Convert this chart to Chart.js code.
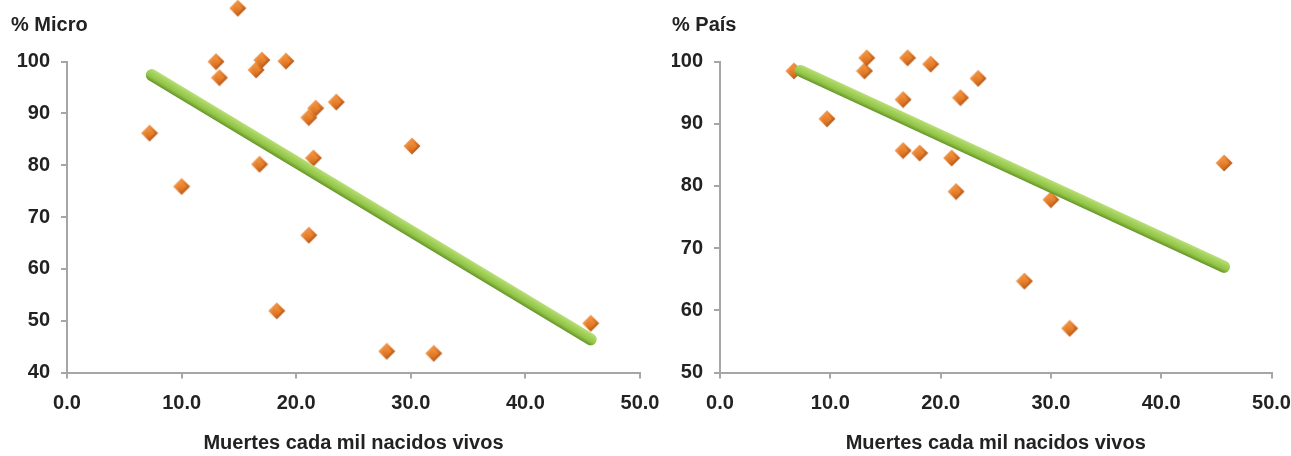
<!DOCTYPE html>
<html>
<head>
<meta charset="utf-8">
<script src="https://cdn.jsdelivr.net/npm/chart.js@4.4.1/dist/chart.umd.min.js"></script>
<style>
    html, body { margin: 0; padding: 0; background: #ffffff; }
    #wrap { position: relative; width: 1291px; height: 456px; overflow: hidden; }
    #microChart { position: absolute; left: 0; top: 0; }
    #paisChart { position: absolute; left: 660px; top: 0; }
</style>
</head>
<body>
<div id="wrap">
    <canvas id="microChart" width="690" height="456"></canvas>
    <canvas id="paisChart" width="660" height="456"></canvas>
</div>
<script>
// Mortalidad infantil (muertes cada mil nacidos vivos) vs cobertura
const microX = [7.2, 10.0, 13.0, 13.3, 14.9, 16.5, 16.8, 17.0, 18.3, 19.1, 21.1, 21.1, 21.5, 21.7, 23.5, 27.9, 30.1, 32.0, 45.7];
const microY = [86.2, 75.9, 100.0, 96.9, 110.3, 98.4, 80.2, 100.3, 51.9, 100.1, 89.2, 66.5, 81.4, 91.0, 92.2, 44.1, 83.7, 43.7, 49.5];
const microTrendX = [7.4, 45.7];
const microTrendY = [97.4, 46.4];

const paisX = [6.7, 9.7, 13.1, 13.3, 16.6, 16.6, 17.0, 18.1, 19.1, 21.0, 21.4, 21.8, 23.4, 27.6, 30.0, 31.7, 45.7];
const paisY = [98.5, 90.8, 98.5, 100.6, 93.9, 85.7, 100.6, 85.3, 99.6, 84.5, 79.1, 94.2, 97.3, 64.7, 77.8, 57.1, 83.7];
const paisTrendX = [7.3, 45.7];
const paisTrendY = [98.5, 67.0];

const xTicks = [0, 10, 20, 30, 40, 50];
const microTicks = [40, 50, 60, 70, 80, 90, 100];
const paisTicks = [50, 60, 70, 80, 90, 100];

const xTitle = 'Muertes cada mil nacidos vivos';

document.addEventListener('DOMContentLoaded', function() {
    const FONT = "'Liberation Sans', Arial, sans-serif";
    const TEXT = '#222222';
    const AXIS = '#a6a6a6';

    function toPoints(xs, ys) {
        return xs.map((x, i) => ({ x: x, y: ys[i] }));
    }

    // small bevelled orange diamond used as point style
    function makeDiamond() {
        const c = document.createElement('canvas');
        c.width = 18;
        c.height = 18;
        const g = c.getContext('2d');
        function diamond(r) {
            g.beginPath();
            g.moveTo(9, 9 - r);
            g.lineTo(9 + r, 9);
            g.lineTo(9, 9 + r);
            g.lineTo(9 - r, 9);
            g.closePath();
        }
        const outer = g.createLinearGradient(1, 1, 17, 17);
        outer.addColorStop(0, '#f9b673');
        outer.addColorStop(0.45, '#e77e2c');
        outer.addColorStop(1, '#9a4510');
        diamond(8.5);
        g.fillStyle = outer;
        g.fill();
        const inner = g.createLinearGradient(0, 4, 0, 14);
        inner.addColorStop(0, '#f2953f');
        inner.addColorStop(1, '#dc6e1e');
        diamond(5);
        g.fillStyle = inner;
        g.fill();
        return c;
    }

    // gradient across the trend line so it looks like a green tube
    function tubeColor(xs, ys) {
        return function(ctx) {
            const chart = ctx.chart;
            if (!chart.chartArea) return '#8fc142';
            const sx = chart.scales.x;
            const sy = chart.scales.y;
            const x0 = sx.getPixelForValue(xs[0]), y0 = sy.getPixelForValue(ys[0]);
            const x1 = sx.getPixelForValue(xs[1]), y1 = sy.getPixelForValue(ys[1]);
            const mx = (x0 + x1) / 2, my = (y0 + y1) / 2;
            const len = Math.hypot(x1 - x0, y1 - y0) || 1;
            const nx = (y1 - y0) / len * 6.5;
            const ny = -(x1 - x0) / len * 6.5;
            const grad = chart.ctx.createLinearGradient(mx + nx, my + ny, mx - nx, my - ny);
            grad.addColorStop(0, '#bde182');
            grad.addColorStop(0.25, '#a9d562');
            grad.addColorStop(0.65, '#92c447');
            grad.addColorStop(1, '#5e8e24');
            return grad;
        };
    }

    const diamondImg = makeDiamond();

    function generateChart(canvasId, title, xs, ys, tx, ty, yTicks, padLeft, yWidth, padRight) {
        return new Chart(document.getElementById(canvasId), {
            type: 'scatter',
            data: {
                datasets: [
                    {
                        label: 'Tendencia',
                        data: toPoints(tx, ty),
                        showLine: true,
                        borderColor: tubeColor(tx, ty),
                        borderWidth: 12,
                        borderCapStyle: 'round',
                        pointRadius: 0,
                        clip: false
                    },
                    {
                        label: title,
                        data: toPoints(xs, ys),
                        pointStyle: diamondImg,
                        // image markers ignore the radius; a large one keeps points above 100 from being culled
                        pointRadius: 80,
                        pointBorderWidth: 0,
                        clip: false
                    }
                ]
            },
            options: {
                responsive: false,
                animation: false,
                events: [],
                devicePixelRatio: 1,
                layout: {
                    autoPadding: false,
                    padding: { left: padLeft, right: padRight, top: 0, bottom: 0 }
                },
                plugins: {
                    legend: { display: false },
                    tooltip: { enabled: false },
                    title: {
                        display: true,
                        text: title,
                        align: 'start',
                        color: TEXT,
                        font: { family: FONT, size: 20, weight: 'bold' },
                        padding: { top: 13, bottom: 24.6 }
                    }
                },
                scales: {
                    x: {
                        type: 'linear',
                        min: xTicks[0],
                        max: xTicks[xTicks.length - 1],
                        afterBuildTicks: s => { s.ticks = xTicks.map(v => ({ value: v })); },
                        afterFit: s => { s.height = 83.5; },
                        grid: { drawOnChartArea: false, drawTicks: true, tickLength: 6, color: AXIS, lineWidth: 2 },
                        border: { color: AXIS, width: 2 },
                        ticks: {
                            padding: 13,
                            color: TEXT,
                            font: { family: FONT, size: 20, weight: 'bold' },
                            callback: v => Number(v).toFixed(1)
                        },
                        title: {
                            display: true,
                            text: xTitle,
                            color: TEXT,
                            font: { family: FONT, size: 20, weight: 'bold' },
                            padding: { top: 0, bottom: 1 }
                        }
                    },
                    y: {
                        type: 'linear',
                        min: yTicks[0],
                        max: yTicks[yTicks.length - 1],
                        afterBuildTicks: s => { s.ticks = yTicks.map(v => ({ value: v })); },
                        afterFit: s => { s.width = yWidth; },
                        grid: { drawOnChartArea: false, drawTicks: true, tickLength: 6, color: AXIS, lineWidth: 2 },
                        border: { color: AXIS, width: 2 },
                        ticks: {
                            padding: 11,
                            color: TEXT,
                            font: { family: FONT, size: 20, weight: 'bold' }
                        }
                    }
                }
            }
        });
    }

    generateChart('microChart', '% Micro', microX, microY, microTrendX, microTrendY, microTicks, 11, 56, 50);
    generateChart('paisChart', '% País', paisX, paisY, paisTrendX, paisTrendY, paisTicks, 12, 48, 48.5);
});
</script>
</body>
</html>
